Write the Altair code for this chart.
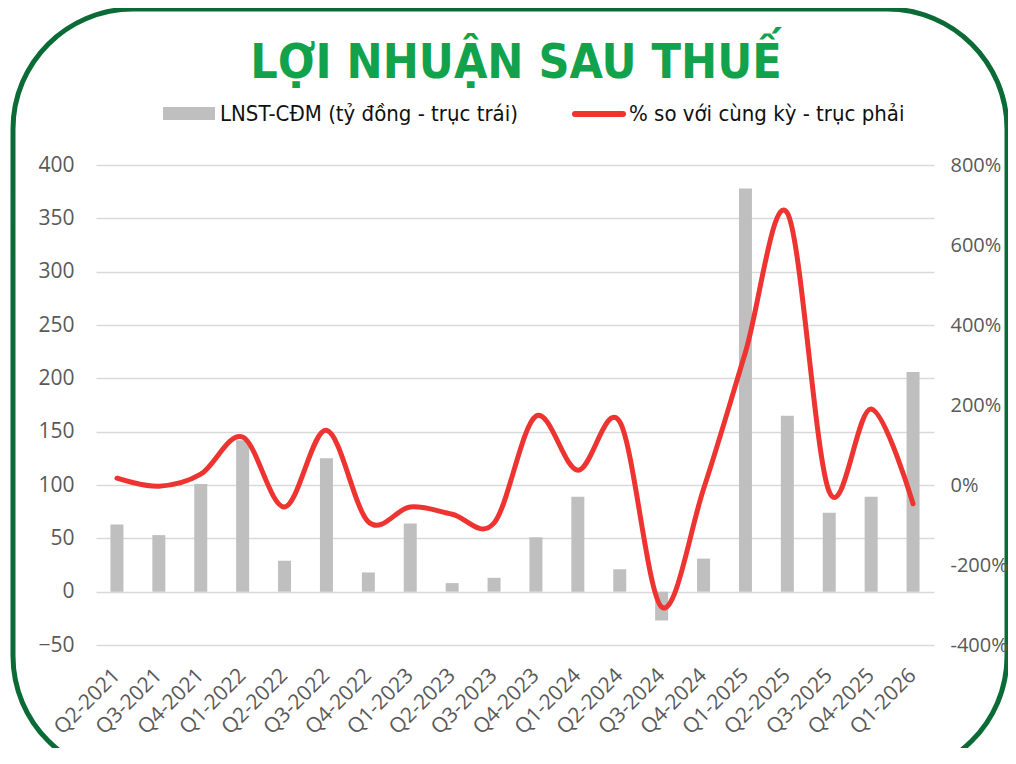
import altair as alt
import pandas as pd

quarters = ["Q2-2021", "Q3-2021", "Q4-2021", "Q1-2022", "Q2-2022", "Q3-2022", "Q4-2022",
            "Q1-2023", "Q2-2023", "Q3-2023", "Q4-2023", "Q1-2024", "Q2-2024", "Q3-2024",
            "Q4-2024", "Q1-2025", "Q2-2025", "Q3-2025", "Q4-2025", "Q1-2026"]
profit = [63, 53, 101, 142, 29, 125, 18, 64, 8, 13, 51, 89, 21, -27, 31, 378, 165, 74, 89, 206]
yoy = [17, -3, 27, 120, -55, 137, -92, -55, -73, -95, 172, 37, 158, -305, -10, 332, 680, -17, 190, -47]

left_ticks = [-50, 0, 50, 100, 150, 200, 250, 300, 350, 400]
right_ticks = [-400, -200, 0, 200, 400, 600, 800]

title_text = "LỢI NHUẬN SAU THUẾ"
legend_bar = "LNST-CĐM (tỷ đồng - trục trái)"
legend_line = "% so với cùng kỳ - trục phải"

df = pd.DataFrame({"q": quarters, "profit": profit, "yoy": yoy})
one = pd.DataFrame({"k": [0]})

AXIS_FONT = "Open Sans"
NARROW = "Liberation Sans Narrow, DejaVu Sans Condensed, sans-serif"
GREEN_DARK = "#0b6b36"
GREEN = "#12a24b"
GRAY = "#bfbfbf"
RED = "#ee3430"
LABEL = "#595959"

x_enc = alt.X("q:N", sort=quarters, title=None,
              scale=alt.Scale(paddingInner=0, paddingOuter=0),
              axis=alt.Axis(labelAngle=-45, labelFontSize=21, labelColor=LABEL,
                            labelFont=AXIS_FONT, labelPadding=27, labelAlign="right",
                            labelBaseline="middle", ticks=False,
                            domain=False, grid=False))

bars = alt.Chart(df).mark_bar(color=GRAY, size=13).encode(
    x=x_enc,
    y=alt.Y("profit:Q", title=None,
            scale=alt.Scale(domain=[-50, 400], nice=False),
            axis=alt.Axis(values=left_ticks, labelFontSize=21, labelColor=LABEL,
                          labelFont=AXIS_FONT, labelPadding=22, ticks=False,
                          domain=False, grid=True, gridColor="#d9d9d9",
                          gridWidth=1.5, orient="left")),
)

line = alt.Chart(df).mark_line(color=RED, strokeWidth=5, interpolate="cardinal",
                               tension=0, strokeCap="round").encode(
    x=alt.X("q:N", sort=quarters),
    y=alt.Y("yoy:Q", title=None,
            scale=alt.Scale(domain=[-400, 800], nice=False),
            axis=alt.Axis(values=right_ticks, labelFontSize=20, labelColor=LABEL,
                          labelFont=AXIS_FONT, labelPadding=16, ticks=False,
                          domain=False, grid=False, orient="right", zindex=1,
                          labelExpr="datum.value + '%'")),
)

frame = alt.Chart(one).mark_rect(filled=False, stroke=GREEN_DARK, strokeWidth=5,
                                 cornerRadius=120).encode(
    x=alt.value(-83), x2=alt.value(911), y=alt.value(-156), y2=alt.value(611))

title = alt.Chart(one).mark_text(text=title_text, font=NARROW, fontSize=48,
                                 fontWeight="bold", color=GREEN, align="center",
                                 baseline="alphabetic").encode(
    x=alt.value(420), y=alt.value(-87))

leg_rect = alt.Chart(one).mark_rect(color=GRAY).encode(
    x=alt.value(67), x2=alt.value(119), y=alt.value(-58), y2=alt.value(-45))
leg_text1 = alt.Chart(one).mark_text(text=legend_bar, font=NARROW, fontSize=22,
                                     color="#111111", align="left",
                                     baseline="middle").encode(
    x=alt.value(124), y=alt.value(-51))
leg_line = alt.Chart(one).mark_rule(color=RED, strokeWidth=6, strokeCap="round").encode(
    x=alt.value(479), x2=alt.value(527), y=alt.value(-51))
leg_text2 = alt.Chart(one).mark_text(text=legend_line, font=NARROW, fontSize=22,
                                     color="#111111", align="left",
                                     baseline="middle").encode(
    x=alt.value(533), y=alt.value(-51))

chart = alt.layer(frame, title, leg_rect, leg_text1, leg_line, leg_text2, bars, line).resolve_scale(
    y="independent"
).properties(
    width=838, height=480,
    padding={"left": 88, "top": 157, "right": 74, "bottom": 103},
    autosize=alt.AutoSizeParams(type="none"),
    background="white",
).configure_view(stroke=None)

chart.save("out.html", embed_options={"renderer": "svg", "actions": False})
